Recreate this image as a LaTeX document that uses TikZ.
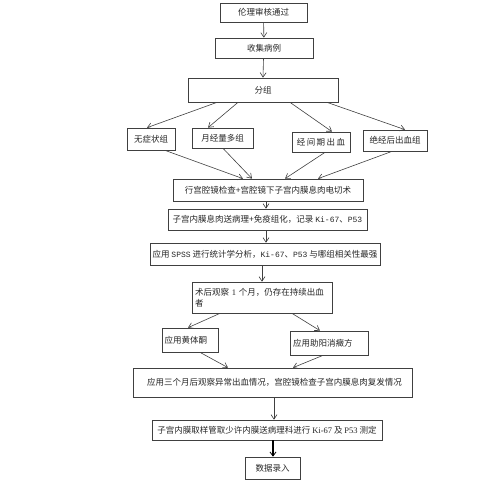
\documentclass[tikz,border=0pt]{standalone}
\usepackage{fontspec}
\setmainfont{Noto Sans CJK SC}
\newfontfamily\ser{Liberation Serif}
\newfontfamily\mon{Liberation Mono}
\usetikzlibrary{arrows.meta}
\begin{document}
\begin{tikzpicture}[x=1pt,y=-1pt,
  box/.style={draw=black!75,line width=0.7pt,inner sep=0pt,font=\fontsize{8.5}{11}\selectfont,text=black!85},
  arr/.style={draw=black!75,line width=0.6pt,-{Straight Barb[length=4.5pt,width=6pt]}},
  barr/.style={draw=black,line width=1.3pt,-{Straight Barb[length=4pt,width=6pt,line width=0.8pt]}}]
\useasboundingbox (0,0) rectangle (480,480);
\node[box,minimum width=87pt,minimum height=19pt] (n1) at (263.5,12.5) {伦理审核通过};
\node[box,minimum width=98pt,minimum height=20pt] (n2) at (264,48) {收集病例};
\node[box,minimum width=150pt,minimum height=24pt] (n3) at (263,90) {分组};
\node[box,minimum width=48pt,minimum height=22pt] (g1) at (151,139) {无症状组};
\node[box,minimum width=61pt,minimum height=20pt] (g2) at (222.5,138) {月经量多组};
\node[box,minimum width=58pt,minimum height=20pt] (g3) at (321,142) {经\,间\,期\,出\,血};
\node[box,minimum width=64pt,minimum height=21pt] (g4) at (395,140.5) {绝经后出血组};
\node[box,minimum width=190pt,minimum height=22pt] (n4) at (268,190) {行宫腔镜检查+宫腔镜下子宫内膜息肉电切术};
\node[box,minimum width=199pt,minimum height=21pt] (n5) at (267.5,219.5) {子宫内膜息肉送病理+免疫组化，记录 {\mon\fontsize{8}{10}\selectfont Ki-67}、{\mon\fontsize{8}{10}\selectfont P53}};
\node[box,minimum width=230pt,minimum height=22pt] (n6) at (265,254) {应用 {\mon\fontsize{8}{10}\selectfont SPSS} 进行统计学分析，{\mon\fontsize{8}{10}\selectfont Ki-67}、{\mon\fontsize{8}{10}\selectfont P53} 与哪组相关性最强};
\node[box,minimum width=140pt,minimum height=31pt,text width=134pt,align=left] (n7) at (262,297.5) {术后观察 {\ser 1} 个月，仍存在持续出血\\者};
\node[box,minimum width=56pt,minimum height=24pt,text width=51pt,align=left] (n8) at (190,340) {应用黄体酮};
\node[box,minimum width=78pt,minimum height=24pt,text width=72pt,align=left] (n9) at (329,343) {应用助阳消癥方};
\node[box,minimum width=279pt,minimum height=29pt] (n10) at (272.5,382.5) {\hspace{4pt}应用三个月后观察异常出血情况，宫腔镜检查子宫内膜息肉复发情况};
\node[box,minimum width=230pt,minimum height=20pt] (n11) at (267,430) {子宫内膜取样管取少许内膜送病理科进行 {\ser Ki-67} 及 {\ser P53} 测定};
\node[box,minimum width=55pt,minimum height=22pt] (n12) at (272.5,468) {数据录入};
\draw[arr] (n1) -- (n2);
\draw[arr] ([xshift=-0.5pt]n2.south) -- ([xshift=0pt]n3.north);
\draw[arr] ([xshift=-46pt]n3.south) -- ([xshift=-4pt]g1.north);
\draw[arr] ([xshift=-25pt]n3.south) -- ([xshift=-14.5pt]g2.north);
\draw[arr] ([xshift=27pt]n3.south) -- ([xshift=11pt]g3.north);
\draw[arr] ([xshift=64pt]n3.south) -- ([xshift=10pt]g4.north);
\draw[arr] ([xshift=14pt]g1.south) -- ([xshift=-25pt]n4.north);
\draw[arr] ([xshift=0.5pt]g2.south) -- ([xshift=-16pt]n4.north);
\draw[arr] ([xshift=4pt]g3.south) -- ([xshift=17pt]n4.north);
\draw[arr] ([xshift=-3pt]g4.south) -- ([xshift=50pt]n4.north);
\draw[arr] ([xshift=-2pt]n4.south) -- ([xshift=-1.5pt]n5.north);
\draw[arr] ([xshift=-1.5pt]n5.south) -- ([xshift=1pt]n6.north);
\draw[arr] ([xshift=-3pt]n6.south) -- (n7.north);
\draw[arr] ([xshift=-42pt]n7.south) -- ([xshift=-2pt]n8.north);
\draw[arr] ([xshift=30pt]n7.south) -- ([xshift=-9pt]n9.north);
\draw[arr] ([xshift=10pt]n8.south) -- ([xshift=-44.5pt]n10.north);
\draw[arr] ([xshift=-6pt]n9.south) -- ([xshift=20.5pt]n10.north);
\draw[arr] ([xshift=1.5pt]n10.south) -- ([xshift=7pt]n11.north);
\draw[barr] ([xshift=6pt]n11.south) -- ([xshift=0.5pt]n12.north);
\end{tikzpicture}
\end{document}
